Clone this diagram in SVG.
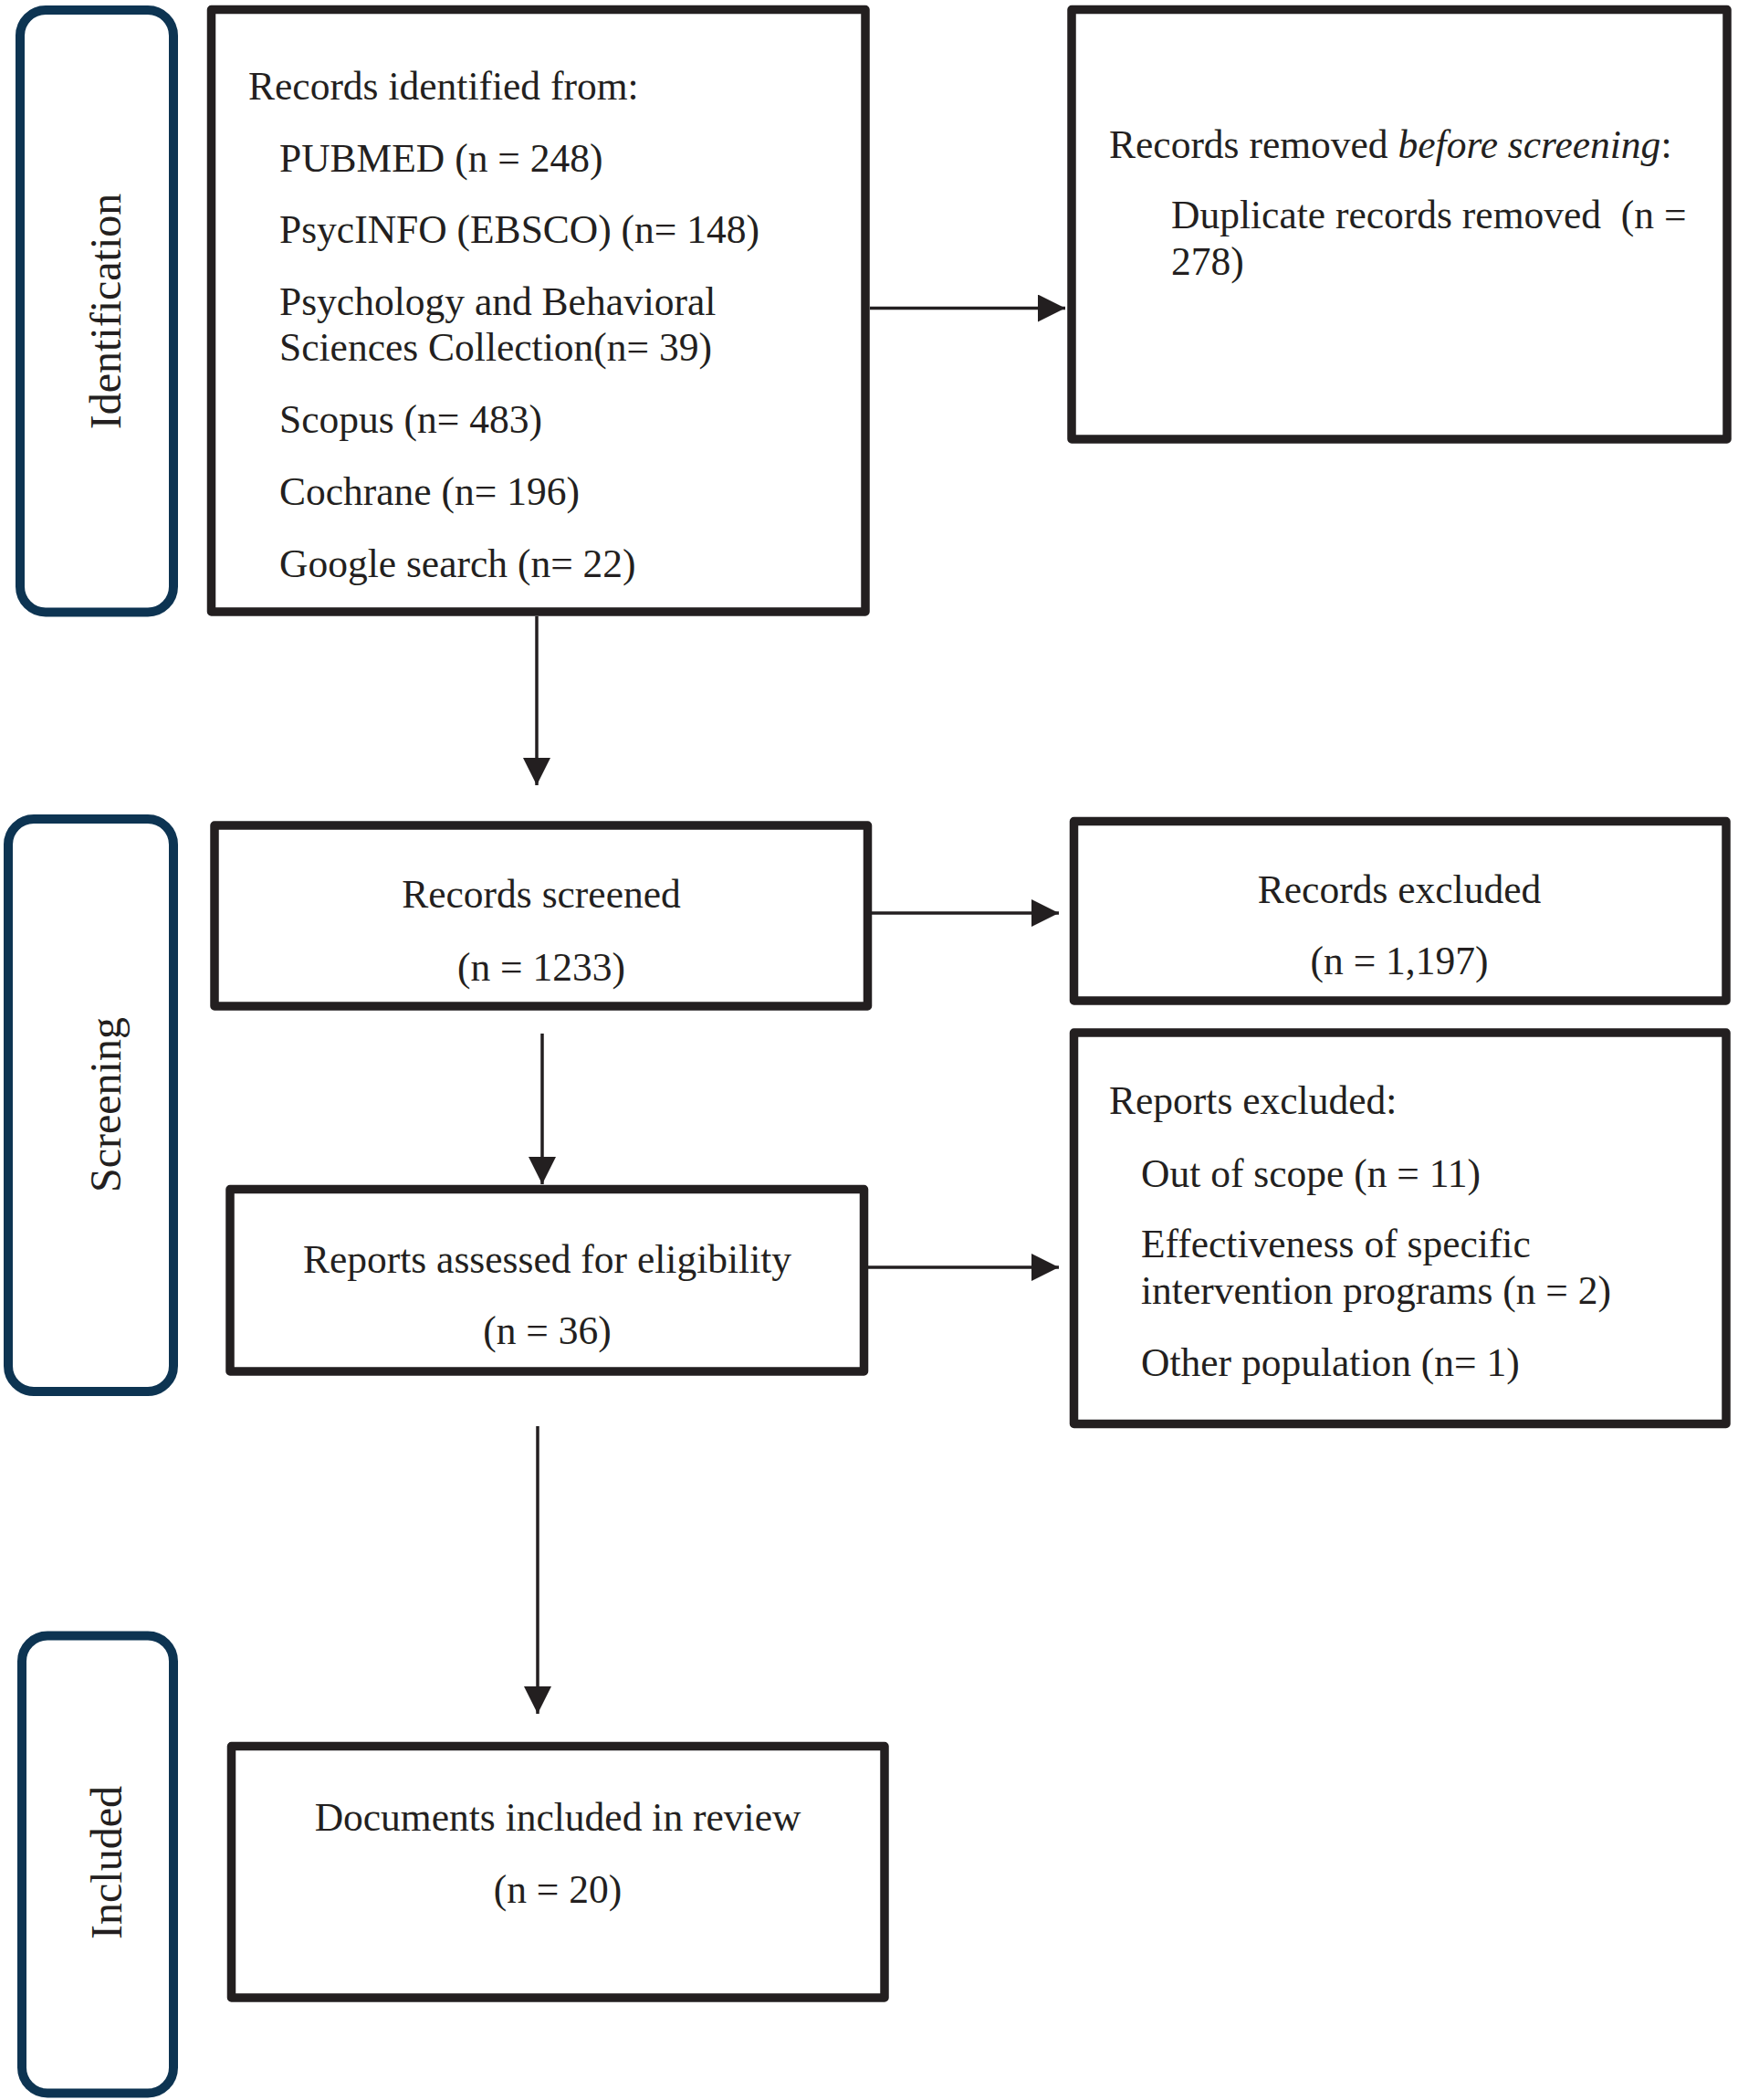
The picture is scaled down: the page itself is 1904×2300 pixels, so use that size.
<svg xmlns="http://www.w3.org/2000/svg" width="1904" height="2300" viewBox="0 0 1904 2300">
<style>
.box{fill:#ffffff;stroke:#231f20;stroke-width:9.5;stroke-linejoin:round}
.lab{fill:#ffffff;stroke:#0d3452;stroke-width:10}
.t{font-family:"Liberation Serif","Times New Roman",serif;font-size:43.5px;fill:#231f20}
.c{text-anchor:middle}
.lt{font-family:"Liberation Serif","Times New Roman",serif;font-size:48px;fill:#231f20;text-anchor:middle}
.ln{stroke:#231f20;stroke-width:3.5;fill:none}
</style>
<defs>
<marker id="ah" viewBox="0 0 30 30" refX="30" refY="15" markerWidth="30" markerHeight="30" markerUnits="userSpaceOnUse" orient="auto">
<path d="M0,0 L30,15 L0,30 Z" fill="#231f20"/>
</marker>
</defs>
<rect width="1904" height="2300" fill="#ffffff"/>

<g id="label-identification">
<rect class="lab" x="22" y="11" width="168" height="659.5" rx="28"/>
<text class="lt" transform="translate(132,341) rotate(-90)">Identification</text>
</g>
<g id="label-screening">
<rect class="lab" x="9" y="897" width="181" height="627" rx="28"/>
<text class="lt" transform="translate(132,1210) rotate(-90)">Screening</text>
</g>
<g id="label-included">
<rect class="lab" x="24" y="1791.5" width="166" height="501" rx="28"/>
<text class="lt" transform="translate(133,2040) rotate(-90)">Included</text>
</g>

<g id="node-identified">
<rect class="box" x="231.5" y="10.5" width="716.5" height="659.5"/>
<text class="t" x="272" y="108.5">Records identified from:</text>
<text class="t" x="306" y="187.5">PUBMED (n = 248)</text>
<text class="t" x="306" y="266">PsycINFO (EBSCO) (n= 148)</text>
<text class="t" x="306" y="345">Psychology and Behavioral</text>
<text class="t" x="306" y="395">Sciences Collection(n= 39)</text>
<text class="t" x="306" y="474">Scopus (n= 483)</text>
<text class="t" x="306" y="552.5">Cochrane (n= 196)</text>
<text class="t" x="306" y="632">Google search (n= 22)</text>
</g>

<g id="node-removed">
<rect class="box" x="1174" y="10.5" width="718" height="470.5"/>
<text class="t" x="1215" y="172.5">Records removed <tspan font-style="italic">before screening</tspan>:</text>
<text class="t" x="1283" y="250" xml:space="preserve">Duplicate records removed  (n =</text>
<text class="t" x="1283" y="301">278)</text>
</g>

<g id="node-screened">
<rect class="box" x="235" y="904" width="715.5" height="198"/>
<text class="t c" x="593" y="994">Records screened</text>
<text class="t c" x="593" y="1074">(n = 1233)</text>
</g>

<g id="node-excluded">
<rect class="box" x="1176.5" y="899.5" width="714.5" height="196.5"/>
<text class="t c" x="1533" y="989">Records excluded</text>
<text class="t c" x="1533" y="1067">(n = 1,197)</text>
</g>

<g id="node-assessed">
<rect class="box" x="252" y="1302.5" width="694.5" height="199.5"/>
<text class="t c" x="599.5" y="1394">Reports assessed for eligibility</text>
<text class="t c" x="599.5" y="1472">(n = 36)</text>
</g>

<g id="node-reports-excluded">
<rect class="box" x="1176.5" y="1131" width="714.5" height="428.5"/>
<text class="t" x="1215" y="1219.5">Reports excluded:</text>
<text class="t" x="1250" y="1300">Out of scope (n = 11)</text>
<text class="t" x="1250" y="1377">Effectiveness of specific</text>
<text class="t" x="1250" y="1428">intervention programs (n = 2)</text>
<text class="t" x="1250" y="1506.5">Other population (n= 1)</text>
</g>

<g id="node-included">
<rect class="box" x="253.5" y="1912.5" width="715.5" height="275.5"/>
<text class="t c" x="611" y="2005">Documents included in review</text>
<text class="t c" x="611" y="2084">(n = 20)</text>
</g>

<g id="connectors">
<line class="ln" x1="953" y1="337.5" x2="1167" y2="337.5" marker-end="url(#ah)"/>
<line class="ln" x1="588" y1="675" x2="588" y2="860" marker-end="url(#ah)"/>
<line class="ln" x1="955" y1="1000" x2="1160" y2="1000" marker-end="url(#ah)"/>
<line class="ln" x1="594" y1="1132" x2="594" y2="1297" marker-end="url(#ah)"/>
<line class="ln" x1="951" y1="1388" x2="1160" y2="1388" marker-end="url(#ah)"/>
<line class="ln" x1="589" y1="1562" x2="589" y2="1877" marker-end="url(#ah)"/>
</g>
</svg>
